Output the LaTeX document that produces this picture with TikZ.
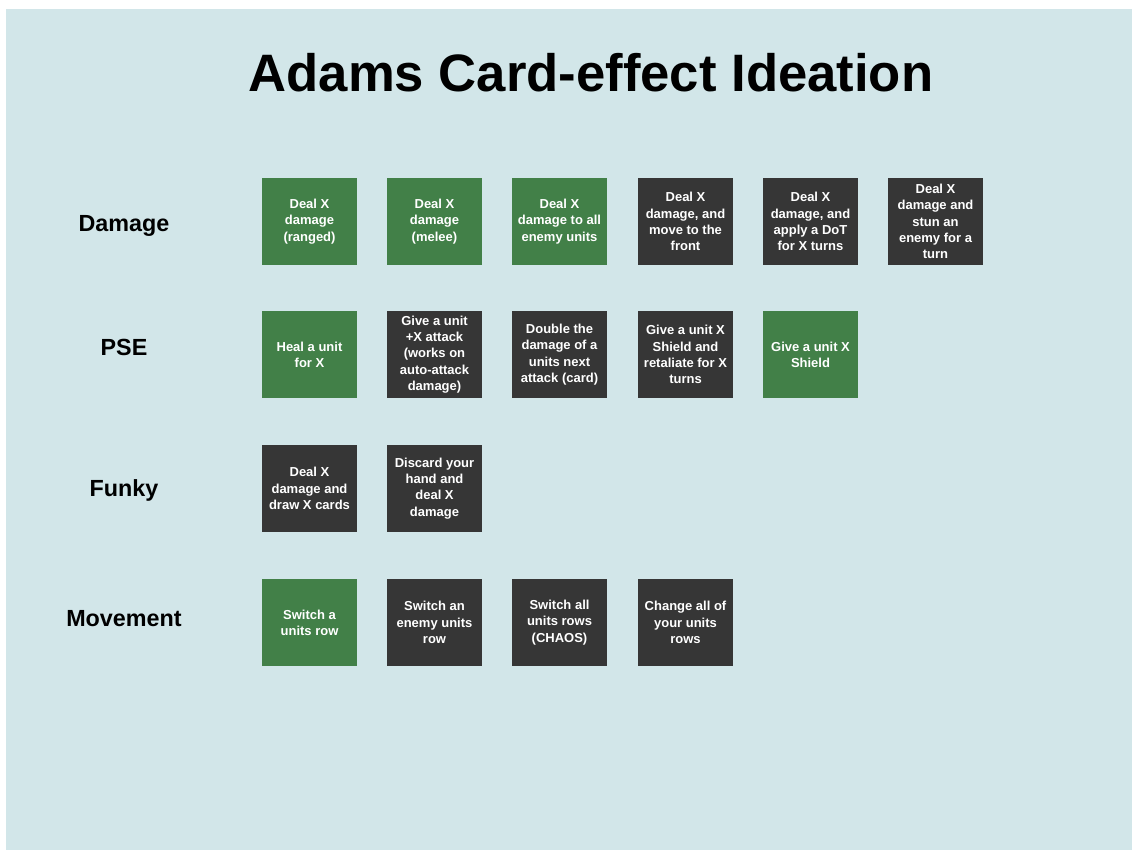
\documentclass[tikz,border=0pt]{standalone}
\usepackage{fontspec}
\setmainfont{Liberation Sans}
\usetikzlibrary{positioning}
\definecolor{cardgreen}{RGB}{66,128,72}
\definecolor{carddark}{RGB}{54,54,54}
\definecolor{boardbg}{RGB}{210,230,233}

\begin{document}
\begin{tikzpicture}[x=0.75pt, y=-0.75pt,
        card/.style={rectangle, minimum width=71.25pt, minimum height=65.25pt, inner sep=0pt, align=center, text=white, font=\bfseries\fontsize{9.75}{12.2}\selectfont},
        good/.style={card, fill=cardgreen},
        idea/.style={card, fill=carddark},
        rowlabel/.style={font=\bfseries\fontsize{17.5}{21}\selectfont}
    ]
        \useasboundingbox (0,0) rectangle (1132,851);
        \fill[boardbg] (6,9) rectangle (1132,850);

        \node[font=\bfseries\fontsize{39.5}{44}\selectfont] (title) at (591,73) {Adams Card-effect Ideation};

        % row labels
        \node[rowlabel] (dmg) at (124,226) {Damage};
        \node[rowlabel] (pse) at (124,347) {PSE};
        \node[rowlabel] (funky) at (124,490) {Funky};
        \node[rowlabel] (move) at (124,619) {Movement};

        % damage
        \node[good] (d1) at (309.5,221.5) {Deal X\\damage\\(ranged)};
        \node[good] (d2) at (434.5,221.5) {Deal X\\damage\\(melee)};
        \node[good] (d3) at (559.5,221.5) {Deal X\\damage to all\\enemy units};
        \node[idea] (d4) at (685.5,221.5) {Deal X\\damage, and\\move to the\\front};
        \node[idea] (d5) at (810.5,221.5) {Deal X\\damage, and\\apply a DoT\\for X turns};
        \node[idea] (d6) at (935.5,221.5) {Deal X\\damage and\\stun an\\enemy for a\\turn};

        % PSE
        \node[good] (p1) at (309.5,354.5) {Heal a unit\\for X};
        \node[idea] (p2) at (434.5,354.5) {Give a unit\\+X attack\\(works on\\auto-attack\\damage)};
        \node[idea] (p3) at (559.5,354.5) {Double the\\damage of a\\units next\\attack (card)};
        \node[idea] (p4) at (685.5,354.5) {Give a unit X\\Shield and\\retaliate for X\\turns};
        \node[good] (p5) at (810.5,354.5) {Give a unit X\\Shield};

        % funky
        \node[idea] (f1) at (309.5,488.5) {Deal X\\damage and\\draw X cards};
        \node[idea] (f2) at (434.5,488.5) {Discard your\\hand and\\deal X\\damage};

        % movement
        \node[good] (m1) at (309.5,622.5) {Switch a\\units row};
        \node[idea] (m2) at (434.5,622.5) {Switch an\\enemy units\\row};
        \node[idea] (m3) at (559.5,622.5) {Switch all\\units rows\\(CHAOS)};
        \node[idea] (m4) at (685.5,622.5) {Change all of\\your units\\rows};
    \end{tikzpicture}
\end{document}
